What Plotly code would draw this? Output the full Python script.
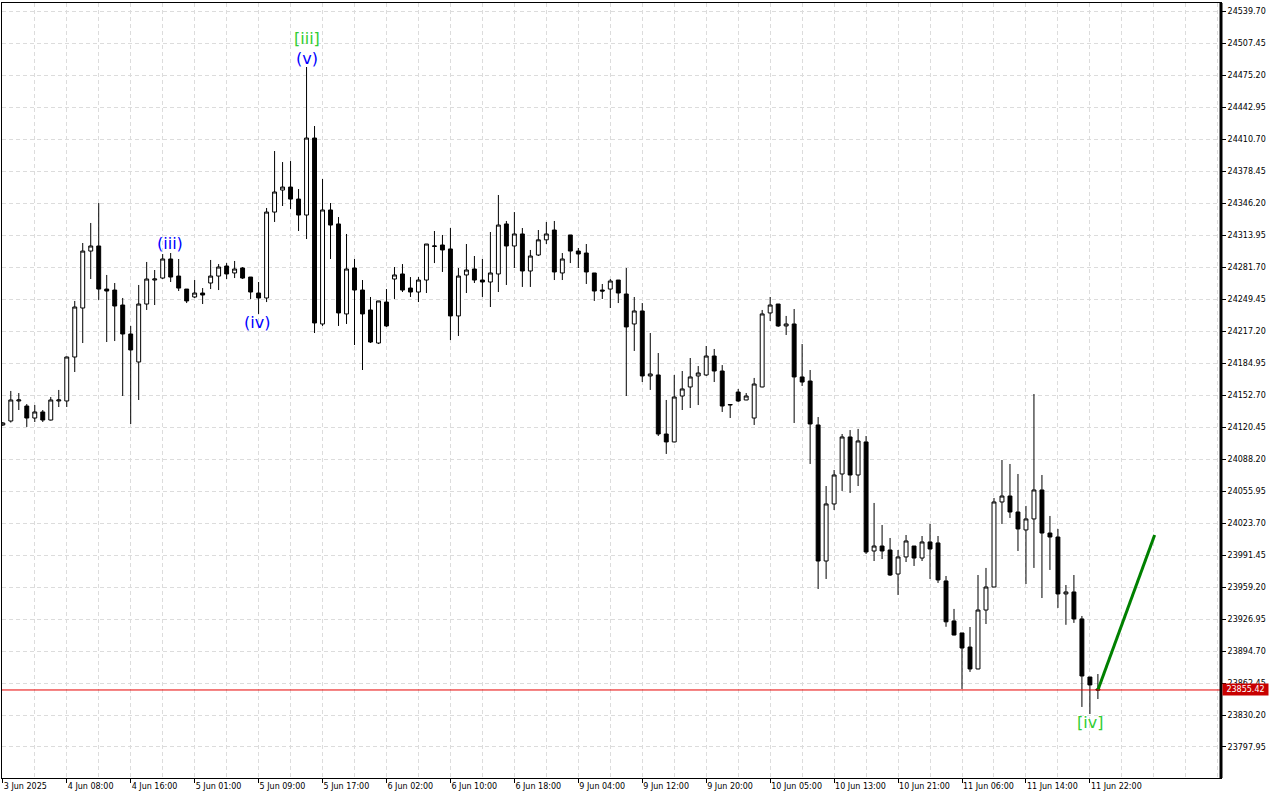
import plotly.graph_objects as go

# ---------------- data (hourly bars) ----------------
opens = [24122.5, 24126.5, 24146.7, 24141.6, 24129.5, 24135.6, 24127.5, 24146.7, 24146.7, 24191.0,
         24240.4, 24297.8, 24302.9, 24259.5, 24258.5, 24243.4, 24214.2, 24186.0, 24244.4, 24268.6,
         24270.6, 24289.8, 24272.6, 24259.5, 24251.5, 24255.5, 24265.6, 24272.6, 24282.7, 24275.7,
         24280.7, 24271.6, 24255.5, 24250.5, 24337.1, 24359.3, 24362.3, 24350.2, 24334.1, 24411.7,
         24224.3, 24339.2, 24325.1, 24234.4, 24280.7, 24258.5, 24238.4, 24205.1, 24246.4, 24269.6,
         24274.7, 24260.5, 24256.5, 24268.6, 24302.4, 24303.9, 24299.9, 24232.4, 24273.7, 24279.7,
         24268.6, 24266.6, 24274.7, 24325.1, 24302.9, 24315.0, 24277.7, 24293.8, 24309.1, 24319.0,
         24275.7, 24314.0, 24297.8, 24295.8, 24275.7, 24258.5, 24259.5, 24268.6, 24254.5, 24224.3,
         24237.4, 24171.9, 24172.9, 24113.4, 24105.4, 24151.7, 24160.8, 24171.9, 24172.9, 24192.0,
         24176.9, 24142.6, 24155.7, 24147.7, 24129.5, 24160.8, 24235.4, 24244.4, 24222.3, 24224.3,
         24170.9, 24166.8, 24122.5, 23985.4, 24042.9, 24073.1, 24110.4, 24072.1, 24105.4, 23995.5,
         24000.5, 23996.5, 23972.3, 23989.5, 24000.5, 23988.4, 24004.6, 24003.6, 23965.3, 23925.0,
         23912.9, 23898.7, 23876.6, 23936.0, 23959.2, 24044.9, 24050.9, 24034.8, 24016.7, 24027.8,
         24057.0, 24013.6, 24009.6, 23952.2, 23954.2, 23927.0, 23868.5, 23856.4]

highs = [24125.5, 24156.8, 24154.7, 24143.6, 24142.6, 24137.6, 24150.7, 24157.8, 24191.5, 24247.5,
         24305.9, 24326.1, 24346.2, 24273.7, 24265.6, 24250.5, 24222.3, 24263.6, 24286.8, 24278.7,
         24294.8, 24295.8, 24289.8, 24259.5, 24268.6, 24260.5, 24288.8, 24284.7, 24285.7, 24287.8,
         24281.7, 24271.6, 24266.6, 24341.2, 24398.6, 24387.5, 24388.5, 24360.3, 24483.3, 24423.8,
         24370.4, 24346.2, 24332.1, 24315.0, 24289.8, 24268.6, 24251.5, 24247.5, 24259.5, 24281.7,
         24284.7, 24271.6, 24271.6, 24304.9, 24318.0, 24314.0, 24321.0, 24280.7, 24304.9, 24292.8,
         24289.8, 24317.0, 24354.3, 24328.1, 24337.1, 24321.0, 24298.9, 24319.0, 24327.1, 24328.1,
         24295.8, 24314.0, 24300.9, 24304.9, 24275.7, 24264.6, 24269.6, 24268.6, 24280.7, 24251.5,
         24245.4, 24215.2, 24195.0, 24147.7, 24172.9, 24176.9, 24190.0, 24181.9, 24202.1, 24199.1,
         24182.9, 24143.6, 24158.8, 24154.7, 24169.9, 24238.4, 24251.5, 24244.4, 24232.4, 24239.4,
         24204.1, 24177.9, 24130.5, 24061.0, 24077.1, 24113.4, 24117.4, 24118.5, 24111.4, 24043.9,
         24021.7, 24008.6, 23996.5, 24011.6, 24000.5, 24010.6, 24022.7, 24010.6, 23970.3, 23937.1,
         23912.9, 23918.9, 23971.3, 23978.4, 24048.9, 24087.2, 24083.2, 24073.1, 24040.9, 24153.7,
         24072.1, 24030.8, 24017.7, 23961.2, 23971.3, 23930.0, 23868.5, 23871.5]

lows = [24121.5, 24125.0, 24137.6, 24120.5, 24125.5, 24125.5, 24127.0, 24140.6, 24140.6, 24175.9,
        24205.1, 24269.6, 24248.5, 24206.1, 24207.1, 24151.7, 24123.5, 24147.7, 24238.4, 24243.4,
        24269.6, 24266.6, 24257.5, 24245.4, 24250.5, 24244.4, 24259.5, 24258.5, 24269.6, 24270.6,
        24269.6, 24249.5, 24234.4, 24246.4, 24327.1, 24343.2, 24340.2, 24318.0, 24309.9, 24215.2,
        24222.3, 24289.8, 24222.3, 24224.3, 24203.1, 24177.9, 24205.1, 24204.1, 24221.3, 24249.5,
        24256.5, 24251.5, 24246.4, 24255.5, 24285.7, 24276.7, 24208.1, 24212.2, 24255.5, 24265.6,
        24251.5, 24241.4, 24256.5, 24263.6, 24280.7, 24261.6, 24261.6, 24292.8, 24304.9, 24268.6,
        24268.6, 24285.7, 24280.7, 24264.6, 24247.5, 24249.5, 24240.4, 24245.4, 24151.7, 24197.1,
        24165.8, 24157.8, 24111.4, 24093.3, 24105.0, 24137.6, 24139.6, 24142.6, 24171.9, 24165.8,
        24135.6, 24129.5, 24145.7, 24147.5, 24122.5, 24160.5, 24227.3, 24221.3, 24213.2, 24124.5,
        24161.8, 24083.2, 23957.2, 23967.3, 24036.8, 24056.0, 24054.0, 24061.0, 23992.5, 23985.4,
        23987.4, 23970.3, 23951.2, 23984.4, 23980.4, 23985.4, 23967.3, 23963.3, 23919.1, 23910.5,
        23856.4, 23873.6, 23876.3, 23921.9, 23959.0, 24022.7, 24028.8, 23995.5, 23962.2, 23978.4,
        23948.1, 23976.4, 23938.1, 23921.1, 23923.0, 23838.3, 23831.2, 23846.3]

closes = [24124.5, 24147.7, 24147.7, 24129.5, 24135.6, 24127.5, 24147.7, 24147.7, 24191.0, 24241.4,
          24297.8, 24302.9, 24259.5, 24257.5, 24242.4, 24214.2, 24198.1, 24244.4, 24269.6, 24269.6,
          24289.8, 24271.6, 24260.5, 24247.5, 24255.5, 24253.5, 24272.6, 24281.7, 24274.7, 24279.7,
          24270.6, 24256.5, 24250.5, 24337.1, 24357.3, 24362.3, 24350.2, 24334.1, 24411.7, 24225.3,
          24339.2, 24324.0, 24235.4, 24279.7, 24258.5, 24234.4, 24206.1, 24247.5, 24222.3, 24273.7,
          24258.5, 24256.5, 24268.6, 24304.9, 24302.9, 24298.9, 24232.4, 24272.6, 24278.7, 24268.6,
          24266.6, 24275.7, 24324.0, 24302.9, 24315.0, 24277.7, 24292.8, 24309.1, 24315.0, 24276.7,
          24289.8, 24297.8, 24294.8, 24276.7, 24257.5, 24257.5, 24267.6, 24255.5, 24221.3, 24237.4,
          24171.9, 24173.9, 24113.4, 24105.4, 24150.7, 24158.8, 24170.9, 24174.9, 24192.0, 24176.9,
          24141.6, 24143.1, 24146.7, 24151.7, 24163.8, 24234.4, 24243.4, 24222.3, 24224.3, 24170.9,
          24165.8, 24123.5, 23985.4, 24042.9, 24072.1, 24110.4, 24072.1, 24106.4, 23994.5, 24000.5,
          23995.5, 23971.3, 23989.5, 24005.6, 23988.4, 24004.6, 23997.5, 23966.3, 23924.1, 23910.8,
          23897.7, 23876.6, 23936.0, 23959.2, 24044.9, 24050.9, 24034.8, 24017.7, 24027.8, 24057.0,
          24013.6, 24009.6, 23952.2, 23954.2, 23927.0, 23869.5, 23860.5, 23855.42]

bars = list(range(len(opens)))

# x-axis time labels (one every 8 bars)
time_label_bars = [0, 8, 16, 24, 32, 40, 48, 56, 64, 72, 80, 88, 96, 104, 112, 120, 128, 136]
time_labels = ["3 Jun 2025", "4 Jun 08:00", "4 Jun 16:00", "5 Jun 01:00", "5 Jun 09:00",
               "5 Jun 17:00", "6 Jun 02:00", "6 Jun 10:00", "6 Jun 18:00", "9 Jun 04:00",
               "9 Jun 12:00", "9 Jun 20:00", "10 Jun 05:00", "10 Jun 13:00", "10 Jun 21:00",
               "11 Jun 06:00", "11 Jun 14:00", "11 Jun 22:00"]
grid_bars = list(range(0, 153, 4))

# price-axis labels
price_ticks = [24539.70, 24507.45, 24475.20, 24442.95, 24410.70, 24378.45, 24346.20, 24313.95,
               24281.70, 24249.45, 24217.20, 24184.95, 24152.70, 24120.45, 24088.20, 24055.95,
               24023.70, 23991.45, 23959.20, 23926.95, 23894.70, 23862.45, 23830.20, 23797.95]
price_tick_text = ["%.2f" % v for v in price_ticks]

current_price = 23855.42

# Elliott wave labels
wave_text = ["(iii)", "(iv)", "(v)", "[iii]", "[iv]"]
wave_bar = [20.9, 31.75, 38, 38, 136]
wave_price = [24305, 24226, 24492, 24512, 23823]
wave_color = ["#0000ff", "#0000ff", "#0000ff", "#32cd32", "#32cd32"]

# projected move
proj_bar = [137, 144.1]
proj_price = [23855.42, 24011.6]

# ---------------- figure ----------------
fig = go.Figure()

fig.add_trace(go.Candlestick(
    x=bars, open=opens, high=highs, low=lows, close=closes,
    increasing=dict(line=dict(color="black", width=1), fillcolor="white"),
    decreasing=dict(line=dict(color="black", width=1), fillcolor="black"),
    whiskerwidth=0, hoverinfo="skip", showlegend=False,
))

fig.add_trace(go.Scatter(
    x=proj_bar, y=proj_price, mode="lines",
    line=dict(color="#008000", width=3), hoverinfo="skip", showlegend=False,
))

fig.add_shape(type="line", xref="paper", x0=0, x1=1, yref="y",
              y0=current_price, y1=current_price,
              line=dict(color="#e80000", width=1))
fig.add_shape(type="line", xref="paper", x0=1, x1=1, yref="paper", y0=0, y1=1,
              line=dict(color="black", width=3))

for t, xb, yp, c in zip(wave_text, wave_bar, wave_price, wave_color):
    fig.add_annotation(x=xb, y=yp, text=t, showarrow=False,
                       font=dict(family="DejaVu Sans", size=16, color=c),
                       xanchor="center", yanchor="middle")

fig.add_annotation(xref="paper", x=1, xanchor="left", xshift=1, yref="y", y=current_price,
                   yanchor="middle", text="%.2f" % current_price, showarrow=False,
                   font=dict(family="DejaVu Sans", size=8, color="white"),
                   bgcolor="#c80000", width=45, height=11, borderpad=0)

tick_font = dict(family="DejaVu Sans", size=8, color="black")

fig.update_layout(
    width=1280, height=800,
    margin=dict(l=2, r=59, t=3, b=22),
    paper_bgcolor="white", plot_bgcolor="white",
    showlegend=False,
    boxgap=0.3, boxgroupgap=0.3,
    xaxis=dict(
        range=[-0.1, 152.4], rangeslider=dict(visible=False),
        tickmode="array", tickvals=time_label_bars, ticktext=time_labels,
        ticklabelposition="outside right",
        ticks="outside", ticklen=4, tickcolor="black", tickwidth=1,
        tickfont=tick_font,
        showgrid=True, gridcolor="#dcdcdc", griddash="4px,3px", gridwidth=1,
        minor=dict(tickmode="array", tickvals=grid_bars, showgrid=True,
                   gridcolor="#dcdcdc", griddash="4px,3px", gridwidth=1, ticks=""),
        showline=True, linecolor="black", linewidth=1, mirror=True,
        zeroline=False, fixedrange=True,
    ),
    yaxis=dict(
        side="right", range=[23766.7, 24547.8],
        tickmode="array", tickvals=price_ticks, ticktext=price_tick_text,
        ticks="outside", ticklen=4, tickcolor="black", tickwidth=1,
        tickfont=tick_font,
        showgrid=True, gridcolor="#dcdcdc", griddash="4px,3px", gridwidth=1,
        showline=True, linecolor="black", linewidth=1, mirror=True,
        zeroline=False, fixedrange=True,
    ),
)

fig.write_html("out.html", config={"displayModeBar": False},
               post_script="document.body.style.margin='0';document.body.style.overflow='hidden';")
